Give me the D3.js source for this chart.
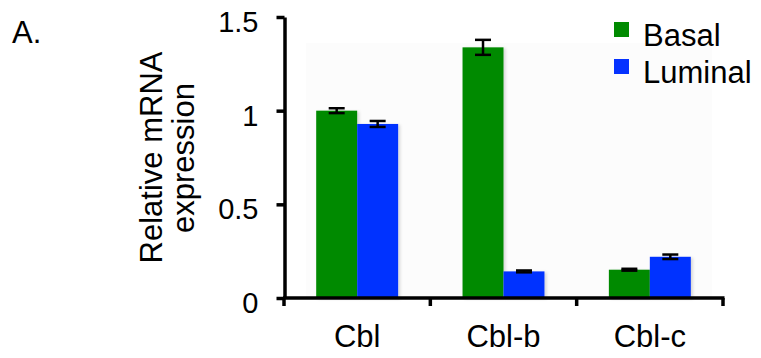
<!DOCTYPE html>
<html>
<head>
<meta charset="utf-8">
<script src="https://cdn.jsdelivr.net/npm/d3@7"></script>
<style>
  body { margin: 0; background: #fff; }
  svg { display: block; font-family: 'Liberation Sans', Arial, Helvetica, sans-serif; }
</style>
</head>
<body>
<div id="chart"></div>
<script>
// chart data
const genes = ['Cbl', 'Cbl-b', 'Cbl-c'];
const seriesNames = ['Basal', 'Luminal'];
const basalVals = [1.0, 1.338, 0.151];
const basalErr = [0.013, 0.04, 0.005];
const luminalVals = [0.929, 0.142, 0.22];
const luminalErr = [0.016, 0.005, 0.012];
const yTicks = [0, 0.5, 1, 1.5];
const yTickLabels = ['0', '0.5', '1', '1.5'];

const colors = { Basal: '#008a00', Luminal: '#0532ff' };

const W = 761, H = 358;
const svg = d3.select('#chart').append('svg')
  .attr('width', W)
  .attr('height', H);

// soft shadow behind the bars
const defs = svg.append('defs');
defs.append('filter')
  .attr('id', 'shadow')
  .attr('x', '-20%').attr('y', '-20%')
  .attr('width', '140%').attr('height', '140%')
  .append('feDropShadow')
  .attr('dx', 2).attr('dy', 1)
  .attr('stdDeviation', 1.5)
  .attr('flood-color', '#000')
  .attr('flood-opacity', 0.15);

// scales
const y = d3.scaleLinear().domain([0, 1.5]).range([298, 17]);
const x0 = d3.scaleBand().domain(genes).range([284, 723]).padding(0);
const x1 = d3.scaleBand().domain(seriesNames)
  .range([0, x0.bandwidth()])
  .paddingInner(0)
  .paddingOuter(0.786);

// faint plot background
svg.append('rect')
  .attr('x', 306).attr('y', 43)
  .attr('width', 406).attr('height', 254)
  .attr('fill', '#fcfcfc');

// build rows for drawing
const rows = genes.map((g, i) => ({
  gene: g,
  values: [
    { key: 'Basal', v: basalVals[i], e: basalErr[i] },
    { key: 'Luminal', v: luminalVals[i], e: luminalErr[i] }
  ]
}));

const groups = svg.append('g').selectAll('g')
  .data(rows)
  .enter()
  .append('g')
  .attr('transform', d => `translate(${x0(d.gene)},0)`);

groups.selectAll('rect')
  .data(d => d.values)
  .enter()
  .append('rect')
  .attr('x', d => x1(d.key))
  .attr('y', d => y(d.v))
  .attr('width', x1.bandwidth())
  .attr('height', d => y(0) - y(d.v))
  .attr('fill', d => colors[d.key])
  .attr('filter', 'url(#shadow)');

// error bars
const capW = 8;
const eb = groups.selectAll('g.err')
  .data(d => d.values)
  .enter()
  .append('g')
  .attr('class', 'err')
  .attr('stroke', '#000')
  .attr('stroke-width', 2.5);
eb.append('line')
  .attr('x1', d => x1(d.key) + x1.bandwidth() / 2)
  .attr('x2', d => x1(d.key) + x1.bandwidth() / 2)
  .attr('y1', d => y(d.v + d.e))
  .attr('y2', d => y(d.v - d.e));
eb.append('line')
  .attr('x1', d => x1(d.key) + x1.bandwidth() / 2 - capW)
  .attr('x2', d => x1(d.key) + x1.bandwidth() / 2 + capW)
  .attr('y1', d => y(d.v + d.e))
  .attr('y2', d => y(d.v + d.e));
eb.append('line')
  .attr('x1', d => x1(d.key) + x1.bandwidth() / 2 - capW)
  .attr('x2', d => x1(d.key) + x1.bandwidth() / 2 + capW)
  .attr('y1', d => y(d.v - d.e))
  .attr('y2', d => y(d.v - d.e));

// y axis
const yAxis = svg.append('g')
  .attr('transform', 'translate(284.5,0)')
  .call(d3.axisLeft(y)
    .tickValues(yTicks)
    .tickFormat((d, i) => yTickLabels[i])
    .tickSize(8)
    .tickSizeOuter(0)
    .tickPadding(18));
yAxis.select('.domain').attr('stroke-width', 3.5);
yAxis.selectAll('.tick line').attr('stroke-width', 3.5);
yAxis.selectAll('.tick text')
  .attr('font-size', 29)
  .attr('font-family', 'Liberation Sans, Arial, sans-serif')
  .attr('fill', '#000')
  .attr('dy', '0.5em');

// x axis baseline and boundary ticks
svg.append('line')
  .attr('x1', 283).attr('x2', 724.5)
  .attr('y1', y(0)).attr('y2', y(0))
  .attr('stroke', '#000').attr('stroke-width', 3.5);
const bounds = genes.map(g => x0(g)).concat([x0.range()[1]]);
svg.append('g').selectAll('line')
  .data(bounds)
  .enter()
  .append('line')
  .attr('x1', d => d).attr('x2', d => d)
  .attr('y1', y(0)).attr('y2', y(0) + 8)
  .attr('stroke', '#000').attr('stroke-width', 3.5);

// category labels
svg.append('g').selectAll('text')
  .data(genes)
  .enter()
  .append('text')
  .attr('x', d => x0(d) + x0.bandwidth() / 2)
  .attr('y', 346.5)
  .attr('text-anchor', 'middle')
  .attr('font-size', 31)
  .text(d => d);

// y axis title
svg.append('text')
  .attr('transform', 'translate(162,157.5) rotate(-90)')
  .attr('text-anchor', 'middle')
  .attr('font-size', 31)
  .text('Relative mRNA');
svg.append('text')
  .attr('transform', 'translate(194,158) rotate(-90)')
  .attr('text-anchor', 'middle')
  .attr('font-size', 31)
  .text('expression');

// panel letter
svg.append('text')
  .attr('x', 12).attr('y', 42.5)
  .attr('font-size', 31)
  .text('A.');

// legend
const legend = svg.append('g').selectAll('g')
  .data(seriesNames)
  .enter()
  .append('g')
  .attr('transform', (d, i) => `translate(614,${22 + i * 37})`);
legend.append('rect')
  .attr('width', 15).attr('height', 15)
  .attr('fill', d => colors[d]);
legend.append('text')
  .attr('x', 29).attr('y', 23.5)
  .attr('font-size', 31)
  .text(d => d);
</script>
</body>
</html>
